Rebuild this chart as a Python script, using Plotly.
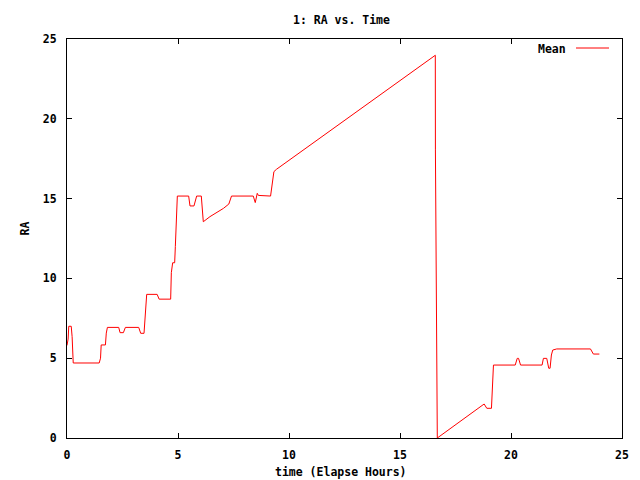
import plotly.graph_objects as go

time_hours = [0.0, 0.05, 0.08, 0.19, 0.23, 0.26, 0.28, 1.45, 1.51, 1.54, 1.73, 1.77, 1.82,
              2.33, 2.39, 2.54, 2.63, 3.23, 3.32, 3.47, 3.50, 3.56, 3.59, 4.06, 4.15, 4.67,
              4.68, 4.70, 4.76, 4.85, 4.88, 4.94, 4.97, 5.48, 5.54, 5.72, 5.84, 6.05, 6.11,
              6.14, 6.44, 6.74, 7.05, 7.29, 7.35, 7.41, 8.39, 8.48, 8.57, 8.62, 9.17, 9.20,
              9.26, 9.32, 9.44, 16.59, 16.595, 16.635, 16.68, 18.79, 18.91, 19.12, 19.15,
              19.21, 20.19, 20.28, 20.34, 20.43, 21.40, 21.46, 21.61, 21.70, 21.76, 21.82,
              21.88, 22.06, 23.58, 23.71, 23.98]
ra_mean = [5.8, 6.2, 7.0, 7.0, 6.35, 5.3, 4.7, 4.7, 5.0, 5.83, 5.83, 6.57, 6.93,
           6.93, 6.6, 6.6, 6.93, 6.93, 6.56, 6.56, 7.18, 8.44, 9.0, 9.0, 8.7, 8.7,
           9.27, 10.36, 10.98, 10.98, 11.99, 14.08, 15.16, 15.16, 14.54, 14.54, 15.16, 15.16, 14.29,
           13.55, 13.87, 14.12, 14.39, 14.66, 14.91, 15.16, 15.16, 14.75, 15.33, 15.2, 15.16, 15.43,
           16.17, 16.69, 16.84, 23.98, 18.05, 6.56, 0.0, 2.13, 1.86, 1.86, 2.59,
           4.57, 4.57, 4.99, 4.99, 4.57, 4.57, 4.99, 4.99, 4.37, 4.37, 5.2,
           5.51, 5.58, 5.58, 5.26, 5.26]

x_ticks = [0, 5, 10, 15, 20, 25]
y_ticks = [0, 5, 10, 15, 20, 25]

FONT = dict(family="DejaVu Sans Mono", size=11.5, color="black", weight="bold")

fig = go.Figure()
fig.add_trace(go.Scatter(x=time_hours, y=ra_mean, mode="lines", name="Mean",
                         line=dict(color="#ff0000", width=1), showlegend=False))

axis_common = dict(showline=True, linecolor="black", linewidth=1, mirror="ticks",
                   ticks="inside", ticklen=5, tickcolor="black", showgrid=False,
                   zeroline=False, tickfont=FONT)
fig.update_xaxes(range=[0, 25], tickvals=x_ticks, ticktext=[str(v) for v in x_ticks],
                 ticklabelstandoff=6, **axis_common)
fig.update_yaxes(range=[0, 25], tickvals=y_ticks, ticktext=[str(v) for v in y_ticks],
                 ticklabelstandoff=7, **axis_common)

fig.update_layout(
    width=640, height=480,
    margin=dict(l=67, r=18, t=39, b=42),
    paper_bgcolor="white", plot_bgcolor="white",
    font=FONT,
    annotations=[
        dict(text="1: RA vs. Time", xref="paper", yref="paper", x=0.495, y=1.0, yshift=19,
             showarrow=False, font=FONT, xanchor="center", yanchor="middle"),
        dict(text="time (Elapse Hours)", xref="paper", yref="paper", x=0.4945, y=0, yshift=-34,
             showarrow=False, font=FONT, xanchor="center", yanchor="middle"),
        dict(text="RA", xref="paper", yref="paper", x=0, xshift=-43, y=0.5, yshift=10,
             textangle=-90, showarrow=False, font=FONT, xanchor="center", yanchor="middle"),
        dict(text="Mean", xref="paper", yref="paper", x=1, xshift=-54, y=1, yshift=-10,
             showarrow=False, font=FONT, xanchor="right", yanchor="middle"),
    ],
    shapes=[
        dict(type="line", xref="paper", yref="paper", xsizemode="pixel", xanchor=1,
             ysizemode="pixel", yanchor=1, x0=-46, x1=-13, y0=-9, y1=-9,
             line=dict(color="#ff0000", width=1)),
    ],
)

fig.write_html("out.html", config={"displayModeBar": False},
               post_script="document.body.style.margin='0';")
